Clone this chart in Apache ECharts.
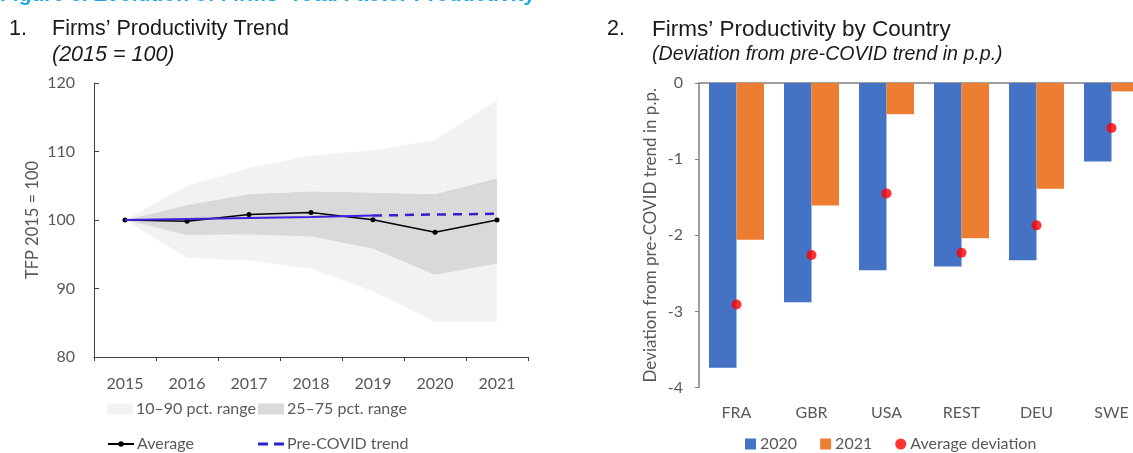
<!DOCTYPE html>
<html>
<head>
<meta charset="utf-8">
<script src="https://cdn.jsdelivr.net/npm/echarts@6/dist/echarts.min.js"></script>
<style>
html,body{margin:0;padding:0;background:#fff;overflow:hidden;}
#chart{width:1150px;height:453px;}
</style>
</head>
<body>
<div id="chart"></div>
<script>
// ---- Panel 1 data ----
var years = ['2015','2016','2017','2018','2019','2020','2021'];
var averageTFP = [100, 99.8, 100.8, 101.1, 100.05, 98.2, 100.0];
var p10 = [100, 94.5, 94.1, 92.9, 89.6, 85.1, 85.1];
var p25 = [100, 97.8, 97.9, 97.6, 95.8, 92.0, 93.6];
var p75 = [100, 102.2, 103.8, 104.2, 104.0, 103.8, 106.1];
var p90 = [100, 105.0, 107.6, 109.4, 110.2, 111.65, 117.5];
var trendFit = [100, 100.15, 100.3, 100.45, 100.65, null, null];
var trendProj = [null, null, null, null, 100.65, 100.8, 100.9];
var leftYTicks = [80, 90, 100, 110, 120];

// ---- Panel 2 data ----
var countries = ['FRA','GBR','USA','REST','DEU','SWE'];
var dev2020 = [-3.74, -2.88, -2.46, -2.41, -2.33, -1.03];
var dev2021 = [-2.06, -1.61, -0.41, -2.04, -1.39, -0.11];
var devAvg = [-2.91, -2.26, -1.45, -2.23, -1.87, -0.59];
var rightYTicks = [-4, -3, -2, -1, 0];

function diff(a, b) { return a.map(function (v, i) { return +(v - b[i]).toFixed(3); }); }

var FONT = 'Lato, "Open Sans", sans-serif';
var TFONT = '"Liberation Sans", Arial, sans-serif';
var GRAY = '#595959';
var DASH_ICON = 'path://M0,0 L10,0 L10,3 L0,3 Z M16,0 L26,0 L26,3 L16,3 Z';

var chart = echarts.init(document.getElementById('chart'));

function legendItem(item, left, top, extra) {
  var o = {
    data: [item], left: left, top: top, itemWidth: 26, itemHeight: 11, itemGap: 0,
    padding: 0, textStyle: { color: GRAY, fontSize: 16, fontFamily: FONT, padding: [0, 0, 0, -2] },
    selectedMode: false
  };
  for (var k in extra) o[k] = extra[k];
  return o;
}

var option = {
  animation: false,
  backgroundColor: '#fff',
  graphic: [
    { type: 'text', left: 0, top: -15, style: { text: "Figure 6. Evolution of Firms\u2019 Total Factor Productivity", fill: '#1ea7e6', font: 'bold 21px ' + TFONT } },
    { type: 'text', left: 9, top: 18, style: { text: '1.', fill: '#1a1a1a', font: '21.5px ' + TFONT } },
    { type: 'text', left: 52, top: 18, style: { text: "Firms\u2019 Productivity Trend", fill: '#1a1a1a', font: '21.5px ' + TFONT } },
    { type: 'text', left: 52, top: 44, style: { text: '(2015 = 100)', fill: '#1a1a1a', font: 'italic 21.5px ' + TFONT } },
    { type: 'text', left: 607, top: 18, style: { text: '2.', fill: '#1a1a1a', font: '21.5px ' + TFONT } },
    { type: 'text', left: 652, top: 18, style: { text: "Firms\u2019 Productivity by Country", fill: '#1a1a1a', font: '22.5px ' + TFONT } },
    { type: 'text', left: 652, top: 45, style: { text: '(Deviation from pre-COVID trend in p.p.)', fill: '#1a1a1a', font: 'italic 19.6px ' + TFONT } }
  ],
  legend: [
    legendItem({ name: '10\u201390 pct. range', icon: 'rect' }, 107, 401, {}),
    legendItem({ name: '25\u201375 pct. range', icon: 'rect' }, 258, 401, {}),
    legendItem({ name: 'Average' }, 107, 436, { itemHeight: 7 }),
    legendItem({ name: 'Pre-COVID trend', icon: DASH_ICON }, 258, 436, { itemHeight: 3 }),
    {
      data: [
        { name: '2020', icon: 'rect' },
        { name: '2021', icon: 'rect' },
        { name: 'Average deviation', icon: 'circle' }
      ],
      left: 745, top: 436, itemWidth: 11, itemHeight: 11, itemGap: 23, padding: 0,
      textStyle: { color: GRAY, fontSize: 16, fontFamily: FONT, padding: [0, 0, 0, -1] },
      selectedMode: false
    }
  ],
  grid: [
    { left: 94, top: 83, width: 434, height: 274 },
    { left: 699, top: 83, width: 450, height: 304.5 }
  ],
  xAxis: [
    {
      gridIndex: 0, type: 'category', data: years, boundaryGap: true,
      axisLine: { lineStyle: { color: '#404040', width: 1 } },
      axisTick: { show: true, length: 4, inside: false, lineStyle: { color: '#404040' } },
      axisLabel: { color: GRAY, fontSize: 16, fontFamily: FONT, margin: 19 }
    },
    {
      gridIndex: 1, type: 'category', data: countries, position: 'bottom',
      axisLine: { show: false, onZero: false }, axisTick: { show: false },
      axisLabel: { color: GRAY, fontSize: 16, fontFamily: FONT, margin: 17 }
    },
    {
      gridIndex: 1, type: 'category', data: countries, position: 'top',
      axisLine: { show: true, onZero: false, lineStyle: { color: '#808080', width: 1.5 } },
      axisTick: { show: false }, axisLabel: { show: false }
    }
  ],
  yAxis: [
    {
      gridIndex: 0, type: 'value', min: leftYTicks[0], max: leftYTicks[leftYTicks.length - 1], interval: 10,
      name: 'TFP 2015 = 100', nameLocation: 'middle', nameGap: 53, nameRotate: 90,
      nameTextStyle: { color: GRAY, fontSize: 16.5, fontFamily: FONT },
      axisLine: { show: true, lineStyle: { color: '#404040', width: 1 } },
      axisTick: { show: true, inside: true, length: 5, lineStyle: { color: '#404040' } },
      axisLabel: { color: GRAY, fontSize: 16, fontFamily: FONT, margin: 19 },
      splitLine: { show: false }
    },
    {
      gridIndex: 1, type: 'value', min: rightYTicks[0], max: rightYTicks[rightYTicks.length - 1], interval: 1,
      name: 'Deviation from pre-COVID trend in p.p.', nameLocation: 'middle', nameGap: 40, nameRotate: 90,
      nameTextStyle: { color: GRAY, fontSize: 17, fontFamily: FONT },
      axisLine: { show: true, lineStyle: { color: '#808080', width: 1.5 } },
      axisTick: { show: true, inside: false, length: 4, lineStyle: { color: '#808080' } },
      axisLabel: { color: GRAY, fontSize: 16, fontFamily: FONT, margin: 16 },
      splitLine: { show: false }
    }
  ],
  series: [
    { name: 'p10base', type: 'line', xAxisIndex: 0, yAxisIndex: 0, stack: 'band', data: p10,
      symbol: 'none', lineStyle: { width: 0, opacity: 0 }, areaStyle: { opacity: 0 }, silent: true },
    { name: '10\u201390 pct. range', type: 'line', xAxisIndex: 0, yAxisIndex: 0, stack: 'band', data: diff(p25, p10),
      symbol: 'none', color: '#f2f2f2', lineStyle: { width: 0, opacity: 0 }, areaStyle: { color: '#f2f2f2', opacity: 1 } },
    { name: '25\u201375 pct. range', type: 'line', xAxisIndex: 0, yAxisIndex: 0, stack: 'band', data: diff(p75, p25),
      symbol: 'none', color: '#d9d9d9', lineStyle: { width: 0, opacity: 0 }, areaStyle: { color: '#d9d9d9', opacity: 1 } },
    { name: '10\u201390 pct. range', type: 'line', xAxisIndex: 0, yAxisIndex: 0, stack: 'band', data: diff(p90, p75),
      symbol: 'none', color: '#f2f2f2', lineStyle: { width: 0, opacity: 0 }, areaStyle: { color: '#f2f2f2', opacity: 1 } },
    { name: 'Average', type: 'line', xAxisIndex: 0, yAxisIndex: 0, data: averageTFP,
      color: '#000', symbol: 'circle', symbolSize: 5, lineStyle: { color: '#000', width: 1.5 }, z: 4 },
    { name: 'Pre-COVID fit', type: 'line', xAxisIndex: 0, yAxisIndex: 0, data: trendFit,
      color: '#3a22e0', symbol: 'none', lineStyle: { color: '#3a22e0', width: 2 }, z: 5 },
    { name: 'Pre-COVID trend', type: 'line', xAxisIndex: 0, yAxisIndex: 0, data: trendProj,
      color: '#2f22cc', symbol: 'none', lineStyle: { color: '#2f22cc', width: 2.5, type: [9, 7] }, z: 5 },
    { name: '2020', type: 'bar', xAxisIndex: 1, yAxisIndex: 1, data: dev2020, color: '#4472c4',
      barGap: '0%', barCategoryGap: '26.7%' },
    { name: '2021', type: 'bar', xAxisIndex: 1, yAxisIndex: 1, data: dev2021, color: '#ed7d31',
      barGap: '0%', barCategoryGap: '26.7%' },
    { name: 'Average deviation', type: 'scatter', xAxisIndex: 1, yAxisIndex: 1, data: devAvg,
      color: '#ff0000', symbol: 'circle', symbolSize: 10, z: 5 }
  ]
};
chart.setOption(option);
</script>
</body>
</html>
